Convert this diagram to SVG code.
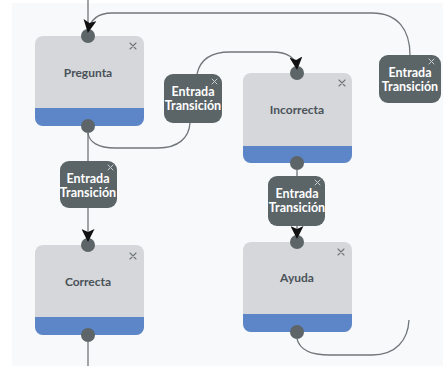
<svg xmlns="http://www.w3.org/2000/svg" width="443" height="366" viewBox="0 0 443 366">
  <defs>
    <style>
      .state-box { fill: #d5d7db; }
      .state-band { fill: #5c86c8; }
      .port { fill: #5d6568; }
      .state-label { font-family: "Lato", "Liberation Sans", sans-serif; font-size: 12px; font-weight: 700; fill: #4a5258; text-anchor: middle; }
      .close { stroke: #6f7478; stroke-width: 1.1; stroke-linecap: round; }
      .trans-box { fill: #5b6467; }
      .trans-label { font-family: "Lato", "Liberation Sans", sans-serif; font-size: 12.5px; font-weight: 700; fill: #ffffff; text-anchor: middle; }
      .trans-close { stroke: #c9ced2; stroke-width: 1; stroke-linecap: round; }
      .edge { fill: none; stroke: #70767a; stroke-width: 1.3; }
    </style>
    <marker id="arrow" markerUnits="userSpaceOnUse" markerWidth="14" markerHeight="13" viewBox="0 0 14 13" refX="12" refY="6.5" orient="auto">
      <path d="M0,0 L13,6.5 L0,13 L3,6.5 Z" fill="#111111"/>
    </marker>
  </defs>

  <!-- canvas -->
  <rect x="0" y="0" width="443" height="366" fill="#ffffff"/>
  <rect x="12" y="3" width="431" height="363" fill="#f8f9fa"/>

  <!-- state nodes -->
  <g id="pregunta">
    <rect class="state-box" x="35" y="36" width="109" height="90" rx="8"/>
    <path class="state-band" d="M35,108 H144 V118 A8,8 0 0 1 136,126 H43 A8,8 0 0 1 35,118 Z"/>
    <text class="state-label" x="88" y="77">Pregunta</text>
    <path class="close" d="M130,43 L136,49 M136,43 L130,49"/>
    <circle class="port" cx="88" cy="36" r="7"/>
    <circle class="port" cx="88" cy="126" r="7"/>
  </g>

  <g id="incorrecta">
    <rect class="state-box" x="243" y="73" width="109" height="90" rx="8"/>
    <path class="state-band" d="M243,146 H352 V155 A8,8 0 0 1 344,163 H251 A8,8 0 0 1 243,155 Z"/>
    <text class="state-label" x="297" y="114">Incorrecta</text>
    <path class="close" d="M339,80 L345,86 M345,80 L339,86"/>
    <circle class="port" cx="297" cy="73" r="7"/>
    <circle class="port" cx="297" cy="163" r="7"/>
  </g>

  <g id="correcta">
    <rect class="state-box" x="35" y="245" width="109" height="90" rx="8"/>
    <path class="state-band" d="M35,317 H144 V327 A8,8 0 0 1 136,335 H43 A8,8 0 0 1 35,327 Z"/>
    <text class="state-label" x="88" y="286">Correcta</text>
    <path class="close" d="M130,253 L136,259 M136,253 L130,259"/>
    <circle class="port" cx="88" cy="245" r="7"/>
    <circle class="port" cx="88" cy="335" r="7"/>
  </g>

  <g id="ayuda">
    <rect class="state-box" x="243" y="242" width="109" height="90" rx="8"/>
    <path class="state-band" d="M243,314 H352 V324 A8,8 0 0 1 344,332 H251 A8,8 0 0 1 243,324 Z"/>
    <text class="state-label" x="297" y="282">Ayuda</text>
    <path class="close" d="M338,249 L344,255 M344,249 L338,255"/>
    <circle class="port" cx="297" cy="242" r="7"/>
    <circle class="port" cx="297" cy="332" r="7"/>
  </g>

  <!-- transition nodes -->
  <g id="entrada-transicion-1">
    <rect class="trans-box" x="164" y="74" width="58" height="49" rx="9"/>
    <text class="trans-label" x="193" y="96">Entrada</text>
    <text class="trans-label" x="193" y="110">Transición</text>
    <path class="trans-close" d="M212,79 L217,84 M217,79 L212,84"/>
  </g>

  <g id="entrada-transicion-2">
    <rect class="trans-box" x="379" y="55" width="62" height="48" rx="9"/>
    <text class="trans-label" x="410" y="77">Entrada</text>
    <text class="trans-label" x="410" y="91">Transición</text>
    <path class="trans-close" d="M429,59 L434,64 M434,59 L429,64"/>
  </g>

  <g id="entrada-transicion-3">
    <rect class="trans-box" x="60" y="161" width="57" height="47" rx="9"/>
    <text class="trans-label" x="88" y="183">Entrada</text>
    <text class="trans-label" x="88" y="197">Transición</text>
    <path class="trans-close" d="M108,165 L113,170 M113,165 L108,170"/>
  </g>

  <g id="entrada-transicion-4">
    <rect class="trans-box" x="268" y="176" width="57" height="50" rx="9"/>
    <text class="trans-label" x="297" y="198">Entrada</text>
    <text class="trans-label" x="297" y="212">Transición</text>
    <path class="trans-close" d="M315,180 L320,185 M320,180 L315,185"/>
  </g>

  <!-- connectors -->
  <g id="connectors">
    <path class="edge" d="M88,0 V27"/>
    <path class="edge" d="M410,55 C410,30 398,13 372,13 L112,13 C98,13 90,20 88,32" marker-end="url(#arrow)"/>
    <path class="edge" d="M88,133 C89,142 98,148 115,148 L158,148 C178,148 189,138 190,123"/>
    <path class="edge" d="M197,74 C200,60 210,52 230,52 L272,52 C288,52 296,58 297,69" marker-end="url(#arrow)"/>
    <path class="edge" d="M88,133 V161"/>
    <path class="edge" d="M88,208 V241" marker-end="url(#arrow)"/>
    <path class="edge" d="M297,170 V176"/>
    <path class="edge" d="M297,226 V238" marker-end="url(#arrow)"/>
    <path class="edge" d="M88,342 V366"/>
    <path class="edge" d="M297,339 C300,350 310,355 330,355 L372,355 C396,355 408,340 409,320"/>
  </g>
</svg>
